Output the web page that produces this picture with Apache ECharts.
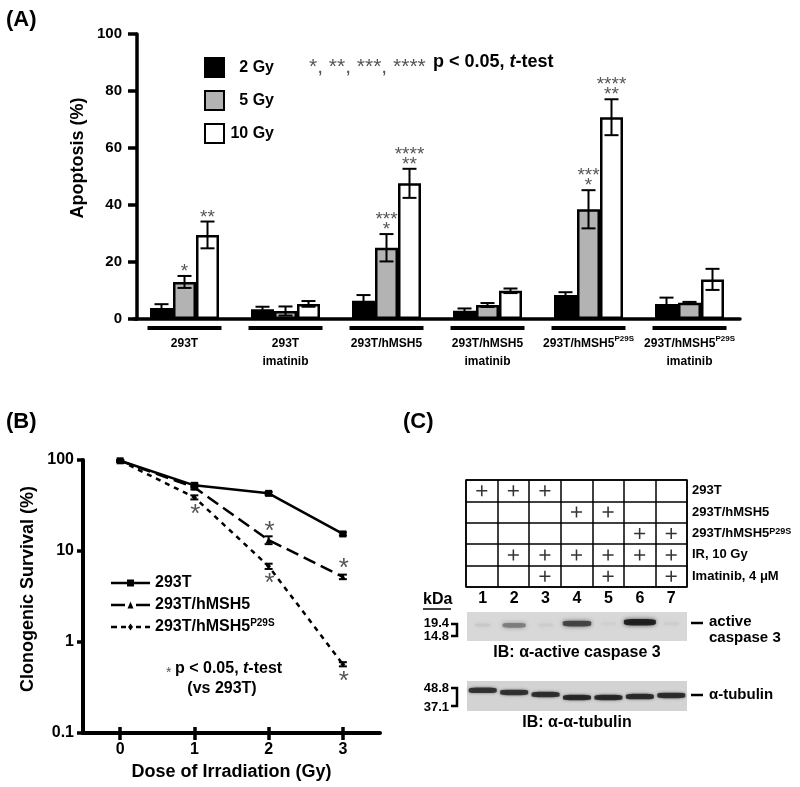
<!DOCTYPE html>
<html>
<head>
<meta charset="utf-8">
<script src="https://cdn.jsdelivr.net/npm/echarts@6/dist/echarts.min.js"></script>
<style>html,body{margin:0;padding:0;background:#fff}#c{width:800px;height:787px}</style>
</head>
<body>
<div id="c"></div>
<script>
// ---------- Panel A data ----------
const groups = ['293T', '293T\nimatinib', '293T/hMSH5', '293T/hMSH5\nimatinib', '293T/hMSH5^P29S', '293T/hMSH5^P29S\nimatinib'];
const doseNames = ['2 Gy', '5 Gy', '10 Gy'];
const gy2 = [3.9, 3.4, 6.4, 2.9, 8.4, 5.3];
const gy2Err = [1.3, 0.9, 2.0, 0.8, 1.0, 2.2];
const gy5 = [13.0, 2.8, 25.0, 4.9, 38.5, 5.7];
const gy5Err = [2.1, 1.6, 4.8, 0.7, 6.7, 0.3];
const gy10 = [29.5, 5.3, 47.6, 9.9, 70.8, 13.9];
const gy10Err = [4.7, 1.0, 5.1, 0.8, 6.3, 3.7];
const sig2 = ['', '', '', '', '', ''];
const sig5 = ['*', '', '***\n*', '', '***\n*', ''];
const sig10 = ['**', '', '****\n**', '', '****\n**', ''];

// ---------- Panel B data ----------
const doses = [0, 1, 2, 3];
const lineNames = ['293T', '293T/hMSH5', '293T/hMSH5^P29S'];
const s293T = [98, 52.7, 43, 15.4];
const sHMSH5 = [98, 50, 13.2, 5.2];
const sP29S = [98, 38.9, 6.8, 0.57];
const e293T = [2, 2.5, 1.5, 0.6];
const eHMSH5 = [2, 2.5, 1.3, 0.3];
const eP29S = [2, 2.0, 0.45, 0.03];
const sigHMSH5 = [0, 0, 1, 1];
const sigP29S = [0, 1, 1, 1];

// ---------- Panel C data ----------
const lanes = ['1', '2', '3', '4', '5', '6', '7'];
const rowNames = ['293T', '293T/hMSH5', '293T/hMSH5^P29S', 'IR, 10 Gy', 'Imatinib, 4 \u03bcM'];
const r293T = [1, 1, 1, 0, 0, 0, 0];
const rHMSH5 = [0, 0, 0, 1, 1, 0, 0];
const rP29S = [0, 0, 0, 0, 0, 1, 1];
const rIR = [0, 1, 1, 1, 1, 1, 1];
const rImatinib = [0, 0, 1, 0, 1, 0, 1];
const caspaseIntensity = [0.08, 0.5, 0.06, 0.8, 0.04, 1.0, 0.05];
const caspaseY = [0.55, 0.54, 0.55, 0.60, 0.6, 0.65, 0.6];
const tubulinIntensity = [0.9, 0.9, 0.92, 0.95, 0.95, 0.93, 0.93];
const tubulinY = [0.69, 0.62, 0.55, 0.45, 0.45, 0.48, 0.52];

const FONT = 'Liberation Sans, Arial, sans-serif';
const supFmt = s => s.replace('^P29S', '{sup|P29S}');

function errA(offset, sigs) {
  return function (params, api) {
    const i = api.value(0), v = api.value(1), e = api.value(2);
    const pT = api.coord([i, v + e]);
    const pB = api.coord([i, Math.max(v - e, 0)]);
    const x = pT[0] + offset, cap = 7;
    const st = { stroke: '#000', lineWidth: 2 };
    const ch = [
      { type: 'line', shape: { x1: x, y1: pT[1], x2: x, y2: pB[1] }, style: st },
      { type: 'line', shape: { x1: x - cap, y1: pT[1], x2: x + cap, y2: pT[1] }, style: st },
      { type: 'line', shape: { x1: x - cap, y1: pB[1], x2: x + cap, y2: pB[1] }, style: st }
    ];
    const s = sigs[params.dataIndex];
    if (s) ch.push({ type: 'text', x: x, y: pT[1] + 1, style: { text: s, align: 'center', verticalAlign: 'bottom', fontSize: 19, lineHeight: 10, fontFamily: FONT, fill: '#555' } });
    return { type: 'group', children: ch };
  };
}
function errB(sigs, dir) {
  return function (params, api) {
    const d = api.value(0), v = api.value(1), e = api.value(2);
    const pT = api.coord([d, v + e]);
    const pB = api.coord([d, v - e]);
    const pC = api.coord([d, v]);
    const x = pC[0], cap = 4;
    const st = { stroke: '#000', lineWidth: 2 };
    const ch = [
      { type: 'line', shape: { x1: x, y1: pT[1], x2: x, y2: pB[1] }, style: st },
      { type: 'line', shape: { x1: x - cap, y1: pT[1], x2: x + cap, y2: pT[1] }, style: st },
      { type: 'line', shape: { x1: x - cap, y1: pB[1], x2: x + cap, y2: pB[1] }, style: st }
    ];
    if (sigs[params.dataIndex]) ch.push({ type: 'text', x: x + 1, y: pC[1] + dir * 13 + 5, style: { text: '*', align: 'center', verticalAlign: 'middle', fontSize: 26, fontFamily: FONT, fill: '#555' } });
    return { type: 'group', children: ch };
  };
}

const plusPath = 'path://M4.3,0H5.7V4.3H10V5.7H5.7V10H4.3V5.7H0V4.3H4.3Z';
const legendIcons = [
  'path://M0,2.25H39V4.75H0Z M16,0H23V7H16Z',
  'path://M0,2.25H14V4.75H0Z M16.5,7L19.5,0L22.5,7Z M25,2.25H39V4.75H25Z',
  'path://M0,2.25H6V4.75H0Z M10,2.25H15V4.75H10Z M17,3.5L19.5,0L22,3.5L19.5,7Z M25,2.25H30V4.75H25Z M34,2.25H39V4.75H34Z'
];
const tableRows = [r293T, rHMSH5, rP29S, rIR, rImatinib];
const tableData = [];
tableRows.forEach((row, r) => row.forEach((f, j) => { if (f) tableData.push([j, r]); }));
const gray = t => { const g = Math.round(214 - 205 * t); return 'rgb(' + g + ',' + g + ',' + g + ')'; };

const boldAx = { color: '#000', fontWeight: 'bold', fontFamily: FONT };
const axLine = { show: true, onZero: false, lineStyle: { color: '#000', width: 3.5 } };

const option = {
  animation: false,
  backgroundColor: '#fff',
  textStyle: { fontFamily: FONT },
  grid: [
    { left: 134, top: 34, width: 606, height: 285 },
    { left: 83, top: 460, width: 297, height: 273 },
    { left: 466, top: 480, width: 221, height: 107, show: true, borderColor: '#000', borderWidth: 1.5, backgroundColor: 'transparent' },
    { left: 467, top: 612, width: 220, height: 29, show: true, borderWidth: 0, backgroundColor: '#d8d8d8' },
    { left: 467, top: 681, width: 220, height: 30, show: true, borderWidth: 0, backgroundColor: '#d3d3d3' }
  ],
  xAxis: [
    { gridIndex: 0, type: 'category', data: groups, axisLine: axLine, axisTick: { show: false },
      axisLabel: Object.assign({ fontSize: 12, lineHeight: 18, margin: 16, interval: 0, formatter: supFmt,
        rich: { sup: { fontSize: 8, fontWeight: 'bold', verticalAlign: 'top', lineHeight: 10, color: '#000' } } }, boldAx) },
    { gridIndex: 1, type: 'value', min: -0.5, max: 3.5, position: 'bottom',
      axisLine: { show: true, onZero: false, lineStyle: { color: '#000', width: 4 } },
      axisTick: { show: true, customValues: doses, length: 7, lineStyle: { color: '#000', width: 3.5 } },
      axisLabel: Object.assign({ customValues: doses, fontSize: 16, margin: 9 }, boldAx), splitLine: { show: false },
      name: 'Dose of Irradiation (Gy)', nameLocation: 'middle', nameGap: 30,
      nameTextStyle: { fontSize: 18, fontWeight: 'bold', color: '#000', fontFamily: FONT } },
    { gridIndex: 1, type: 'value', min: -0.5, max: 3.5, position: 'bottom', axisLine: { show: false, onZero: false },
      axisTick: { show: true, inside: true, customValues: doses, length: 6, lineStyle: { color: '#000', width: 3.5 } },
      axisLabel: { show: false }, splitLine: { show: false } },
    { gridIndex: 2, type: 'category', data: lanes, axisLine: { show: false }, axisTick: { show: false }, axisLabel: { show: false },
      splitLine: { show: true, lineStyle: { color: '#000', width: 1.5 } } },
    { gridIndex: 3, type: 'category', data: lanes, position: 'top', axisLine: { show: false }, axisTick: { show: false },
      axisLabel: Object.assign({ fontSize: 16, margin: 5 }, boldAx), splitLine: { show: false } },
    { gridIndex: 4, type: 'category', data: lanes, show: false }
  ],
  yAxis: [
    { gridIndex: 0, type: 'value', min: 0, max: 100, interval: 20, offset: -3, axisLine: axLine,
      axisTick: { show: true, length: 9, lineStyle: { color: '#000', width: 3.5 } },
      axisLabel: Object.assign({ fontSize: 15, margin: 15 }, boldAx), splitLine: { show: false } },
    { gridIndex: 1, type: 'log', logBase: 10, min: 0.1, max: 100,
      axisLine: { show: true, onZero: false, lineStyle: { color: '#000', width: 4 } },
      axisTick: { show: true, length: 6, lineStyle: { color: '#000', width: 3.5 } },
      axisLabel: Object.assign({ fontSize: 16, margin: 9 }, boldAx), splitLine: { show: false } },
    { gridIndex: 2, type: 'category', data: rowNames, inverse: true, position: 'right', axisLine: { show: false }, axisTick: { show: false },
      axisLabel: Object.assign({ fontSize: 13, margin: 5, formatter: supFmt,
        rich: { sup: { fontSize: 9, fontWeight: 'bold', verticalAlign: 'top', lineHeight: 9, color: '#000' } } }, boldAx),
      splitLine: { show: true, lineStyle: { color: '#000', width: 1.5 } } },
    { gridIndex: 3, type: 'value', min: 0, max: 1, show: false },
    { gridIndex: 4, type: 'value', min: 0, max: 1, show: false }
  ],
  legend: [
    { data: doseNames, orient: 'vertical', left: 199, top: 52, itemWidth: 19, itemHeight: 19, itemGap: 12, selectedMode: false,
      icon: 'rect', itemStyle: { borderColor: '#000', borderWidth: 2 },
      formatter: n => '{a|' + n + '}',
      textStyle: { rich: { a: { width: 45, align: 'right', fontSize: 16, fontWeight: 'bold', color: '#000', fontFamily: FONT } } } },
    { data: lineNames.map((n, i) => ({ name: n, icon: legendIcons[i] })), orient: 'vertical', left: 106, top: 569,
      itemWidth: 39, itemHeight: 7, itemGap: 4, selectedMode: false, itemStyle: { color: '#000', borderWidth: 0 },
      formatter: supFmt,
      textStyle: { fontSize: 16, fontWeight: 'bold', color: '#000', lineHeight: 18, fontFamily: FONT,
        rich: { sup: { fontSize: 10, fontWeight: 'bold', verticalAlign: 'top', lineHeight: 10, color: '#000' } } } }
  ],
  series: [
    { type: 'bar', name: doseNames[0], xAxisIndex: 0, yAxisIndex: 0, data: gy2, barWidth: 23, barGap: '0%',
      itemStyle: { color: '#000', borderColor: '#000', borderWidth: 2.5 } },
    { type: 'bar', name: doseNames[1], xAxisIndex: 0, yAxisIndex: 0, data: gy5, barWidth: 23, barGap: '0%',
      itemStyle: { color: '#b3b3b3', borderColor: '#000', borderWidth: 2.5 } },
    { type: 'bar', name: doseNames[2], xAxisIndex: 0, yAxisIndex: 0, data: gy10, barWidth: 23, barGap: '0%',
      itemStyle: { color: '#fff', borderColor: '#000', borderWidth: 2.5 } },
    { type: 'custom', xAxisIndex: 0, yAxisIndex: 0, z: 5, data: gy2.map((v, i) => [i, v, gy2Err[i]]), renderItem: errA(-23, sig2) },
    { type: 'custom', xAxisIndex: 0, yAxisIndex: 0, z: 5, data: gy5.map((v, i) => [i, v, gy5Err[i]]), renderItem: errA(0, sig5) },
    { type: 'custom', xAxisIndex: 0, yAxisIndex: 0, z: 5, data: gy10.map((v, i) => [i, v, gy10Err[i]]), renderItem: errA(23, sig10) },
    { type: 'custom', xAxisIndex: 0, yAxisIndex: 0, clip: false, data: groups.map((g, i) => [i, 0]),
      renderItem: (p, api) => { const c = api.coord([api.value(0), 0]);
        return { type: 'rect', shape: { x: c[0] - 37, y: c[1] + 7, width: 74, height: 4 }, style: { fill: '#000' } }; } },

    { type: 'line', name: lineNames[0], xAxisIndex: 1, yAxisIndex: 1, data: doses.map((d, i) => [d, s293T[i]]),
      symbol: 'rect', symbolSize: 7, lineStyle: { color: '#000', width: 2.5 }, itemStyle: { color: '#000' }, z: 3 },
    { type: 'line', name: lineNames[1], xAxisIndex: 1, yAxisIndex: 1, data: doses.map((d, i) => [d, sHMSH5[i]]),
      symbol: 'triangle', symbolSize: 6, lineStyle: { color: '#000', width: 2.5, type: [13, 6] }, itemStyle: { color: '#000' }, z: 3 },
    { type: 'line', name: lineNames[2], xAxisIndex: 1, yAxisIndex: 1, data: doses.map((d, i) => [d, sP29S[i]]),
      symbol: 'diamond', symbolSize: 5, lineStyle: { color: '#000', width: 2.5, type: [5, 5] }, itemStyle: { color: '#000' }, z: 3 },
    { type: 'custom', xAxisIndex: 1, yAxisIndex: 1, z: 4, data: doses.map((d, i) => [d, s293T[i], e293T[i]]), renderItem: errB([0, 0, 0, 0], 1) },
    { type: 'custom', xAxisIndex: 1, yAxisIndex: 1, z: 4, data: doses.map((d, i) => [d, sHMSH5[i], eHMSH5[i]]), renderItem: errB(sigHMSH5, -1) },
    { type: 'custom', xAxisIndex: 1, yAxisIndex: 1, z: 4, data: doses.map((d, i) => [d, sP29S[i], eP29S[i]]), renderItem: errB(sigP29S, 1) },

    { type: 'scatter', xAxisIndex: 3, yAxisIndex: 2, data: tableData, symbol: plusPath, symbolSize: 11, itemStyle: { color: '#000' } },
    { type: 'scatter', xAxisIndex: 4, yAxisIndex: 3, silent: true,
      data: caspaseIntensity.map((t, j) => ({ value: [j, caspaseY[j]], symbolSize: [14 + 18 * t, 3 + 3.5 * t],
        itemStyle: { color: gray(t), shadowBlur: 4, shadowColor: gray(t * 0.8) } })),
      symbol: 'roundRect' },
    { type: 'scatter', xAxisIndex: 5, yAxisIndex: 4, silent: true,
      data: tubulinIntensity.map((t, j) => ({ value: [j, tubulinY[j]], symbolSize: [28, 5.5],
        itemStyle: { color: gray(t), shadowBlur: 3, shadowColor: gray(t * 0.7) } })),
      symbol: 'roundRect' }
  ],
  graphic: [
    { type: 'text', x: 6, y: 20, style: { text: '(A)', fontSize: 22, fontWeight: 'bold', fontFamily: FONT, fill: '#000', verticalAlign: 'middle' } },
    { type: 'text', x: 78, y: 158, rotation: Math.PI / 2, style: { text: 'Apoptosis (%)', fontSize: 18, fontWeight: 'bold', fontFamily: FONT, fill: '#000', align: 'center', verticalAlign: 'middle' } },
    { type: 'text', x: 309, y: 67, style: { text: '*, **, ***, ****', fontSize: 21, fontFamily: FONT, fill: '#555', verticalAlign: 'middle' } },
    { type: 'text', x: 433, y: 62, style: { text: '{b|p < 0.05, }{i|t}{b|-test}', verticalAlign: 'middle',
        rich: { b: { fontSize: 18, fontWeight: 'bold', fontFamily: FONT, fill: '#000' }, i: { fontSize: 18, fontWeight: 'bold', fontStyle: 'italic', fontFamily: FONT, fill: '#000' } } } },
    { type: 'text', x: 6, y: 422, style: { text: '(B)', fontSize: 22, fontWeight: 'bold', fontFamily: FONT, fill: '#000', verticalAlign: 'middle' } },
    { type: 'text', x: 28, y: 589, rotation: Math.PI / 2, style: { text: 'Clonogenic Survival (%)', fontSize: 18, fontWeight: 'bold', fontFamily: FONT, fill: '#000', align: 'center', verticalAlign: 'middle' } },
    { type: 'text', x: 166, y: 673, style: { text: '*', fontSize: 14, fontFamily: FONT, fill: '#555', verticalAlign: 'middle' } },
    { type: 'text', x: 175, y: 669, style: { text: '{b|p < 0.05, }{i|t}{b|-test}', verticalAlign: 'middle',
        rich: { b: { fontSize: 16, fontWeight: 'bold', fontFamily: FONT, fill: '#000' }, i: { fontSize: 16, fontWeight: 'bold', fontStyle: 'italic', fontFamily: FONT, fill: '#000' } } } },
    { type: 'text', x: 222, y: 689, style: { text: '(vs 293T)', fontSize: 16, fontWeight: 'bold', fontFamily: FONT, fill: '#000', align: 'center', verticalAlign: 'middle' } },
    { type: 'text', x: 403, y: 422, style: { text: '(C)', fontSize: 22, fontWeight: 'bold', fontFamily: FONT, fill: '#000', verticalAlign: 'middle' } },
    { type: 'text', x: 423, y: 600, style: { text: 'kDa', fontSize: 16, fontWeight: 'bold', fontFamily: FONT, fill: '#000', verticalAlign: 'middle' } },
    { type: 'line', shape: { x1: 423, y1: 609, x2: 451, y2: 609 }, style: { stroke: '#000', lineWidth: 1.5 } },
    { type: 'text', x: 449, y: 623, style: { text: '19.4', fontSize: 13, fontWeight: 'bold', fontFamily: FONT, fill: '#000', align: 'right', verticalAlign: 'middle' } },
    { type: 'text', x: 449, y: 636, style: { text: '14.8', fontSize: 13, fontWeight: 'bold', fontFamily: FONT, fill: '#000', align: 'right', verticalAlign: 'middle' } },
    { type: 'polyline', shape: { points: [[451, 624], [457, 624], [457, 636], [451, 636]] }, style: { stroke: '#000', lineWidth: 2.5, fill: null } },
    { type: 'text', x: 449, y: 688, style: { text: '48.8', fontSize: 13, fontWeight: 'bold', fontFamily: FONT, fill: '#000', align: 'right', verticalAlign: 'middle' } },
    { type: 'text', x: 449, y: 707, style: { text: '37.1', fontSize: 13, fontWeight: 'bold', fontFamily: FONT, fill: '#000', align: 'right', verticalAlign: 'middle' } },
    { type: 'polyline', shape: { points: [[451, 688], [457, 688], [457, 706], [451, 706]] }, style: { stroke: '#000', lineWidth: 2.5, fill: null } },
    { type: 'line', shape: { x1: 691, y1: 623, x2: 703, y2: 623 }, style: { stroke: '#000', lineWidth: 2.5 } },
    { type: 'text', x: 709, y: 622, style: { text: 'active', fontSize: 15, fontWeight: 'bold', fontFamily: FONT, fill: '#000', verticalAlign: 'middle' } },
    { type: 'text', x: 709, y: 638, style: { text: 'caspase 3', fontSize: 15, fontWeight: 'bold', fontFamily: FONT, fill: '#000', verticalAlign: 'middle' } },
    { type: 'text', x: 577, y: 653, style: { text: 'IB: \u03b1-active caspase 3', fontSize: 16, fontWeight: 'bold', fontFamily: FONT, fill: '#000', align: 'center', verticalAlign: 'middle' } },
    { type: 'line', shape: { x1: 691, y1: 695, x2: 703, y2: 695 }, style: { stroke: '#000', lineWidth: 2.5 } },
    { type: 'text', x: 709, y: 695, style: { text: '\u03b1-tubulin', fontSize: 15, fontWeight: 'bold', fontFamily: FONT, fill: '#000', verticalAlign: 'middle' } },
    { type: 'text', x: 577, y: 723, style: { text: 'IB: \u03b1-\u03b1-tubulin', fontSize: 16, fontWeight: 'bold', fontFamily: FONT, fill: '#000', align: 'center', verticalAlign: 'middle' } }
  ]
};
const chart = echarts.init(document.getElementById('c'), null, { renderer: 'canvas' });
chart.setOption(option);
</script>
</body>
</html>
